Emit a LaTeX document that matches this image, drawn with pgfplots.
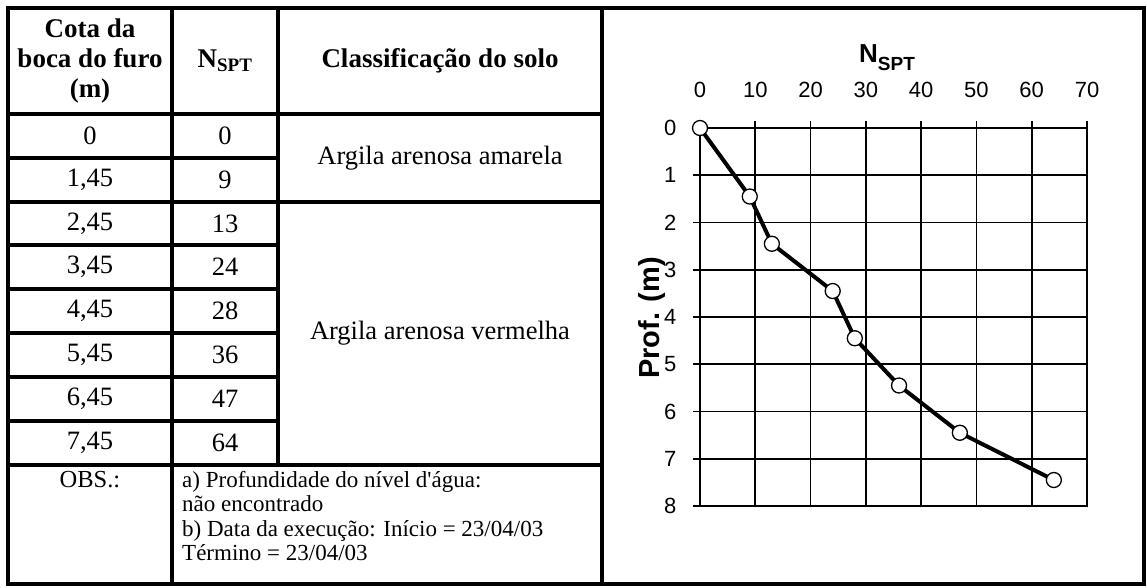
\documentclass[border=0pt]{standalone}
\usepackage{pgfplots}
\pgfplotsset{compat=1.18}
\usepackage{fontspec}
\setmainfont{Liberation Serif}
\newfontfamily\uisans{Liberation Sans}
\begin{document}
\begin{tikzpicture}
\path[use as bounding box] (0pt,0pt) rectangle (1147pt,-587pt);
% table grid
\begin{scope}[line width=4pt, line cap=rect]
\draw (8pt,-8pt) rectangle (1144pt,-584pt);
\draw (172pt,-8pt) -- (172pt,-584pt);
\draw (278pt,-8pt) -- (278pt,-465pt);
\draw (602pt,-8pt) -- (602pt,-584pt);
\draw (8pt,-114pt) -- (602pt,-114pt);
\draw (8pt,-158pt) -- (278pt,-158pt);
\draw (8pt,-202pt) -- (602pt,-202pt);
\foreach \yy in {245,289,333,377,421} \draw (8pt,-\yy pt) -- (278pt,-\yy pt);
\draw (8pt,-465pt) -- (602pt,-465pt);
\end{scope}
% header
\node[align=center, font=\fontsize{27}{30}\selectfont\bfseries] at (90pt,-61pt) {Cota da\\boca do furo\\(m)};
\node[font=\fontsize{27}{30}\selectfont\bfseries] at (225pt,-61pt) {N\textsubscript{\fontsize{19}{19}\selectfont SPT}};
\node[font=\fontsize{27}{30}\selectfont\bfseries] at (440pt,-61pt) {Classificação do solo};
% rows
\foreach \c/\n/\yy in {0/0/136,{1,45}/9/180,{2,45}/13/223.5,{3,45}/24/267,{4,45}/28/311,{5,45}/36/355,{6,45}/47/399,{7,45}/64/443}{
  \node[font=\fontsize{26.5}{30}\selectfont] at (90pt,-\yy pt) {\c};
  \node[font=\fontsize{26.5}{30}\selectfont] at (225pt,-\yy pt) {\n};
}
\node[font=\fontsize{26.5}{30}\selectfont] at (440pt,-158pt) {Argila arenosa amarela};
\node[font=\fontsize{26.5}{30}\selectfont] at (440pt,-333pt) {Argila arenosa vermelha};
\node[anchor=base, inner sep=0pt, font=\fontsize{24.5}{30}\selectfont] at (90pt,-487pt) {OBS.:};
\node[anchor=base west, inner sep=0pt, font=\fontsize{23}{26}\selectfont] at (182pt,-487pt) {a) Profundidade do nível d\textquotesingle água:};
\node[anchor=base west, inner sep=0pt, font=\fontsize{23}{26}\selectfont] at (182pt,-511.5pt) {não encontrado};
\node[anchor=base west, inner sep=0pt, font=\fontsize{23}{26}\selectfont] at (182pt,-536pt) {b) Data da execução: Início = 23/04/03};
\node[anchor=base west, inner sep=0pt, font=\fontsize{23}{26}\selectfont] at (182pt,-560.5pt) {Término = 23/04/03};
% plot
\begin{axis}[
  at={(700pt,-128pt)}, anchor=north west, scale only axis,
  width=387pt, height=378pt,
  xmin=0, xmax=70, ymin=0, ymax=8, y dir=reverse,
  xtick={0,10,...,70}, ytick={0,1,...,8},
  xtick pos=right, xticklabel pos=right, ytick pos=left,
  tick align=outside, major tick length=7pt,
  grid=major, major grid style={black, line width=1.6pt},
  axis line style={black, line width=1.6pt},
  every tick/.style={black, line width=1.6pt},
  ticklabel style={font=\uisans\fontsize{22}{22}\selectfont},
  /pgf/number format/assume math mode=true,
  xticklabel style={yshift=20pt},
  yticklabel style={xshift=-13pt},
  clip=false,
]
\addplot[black, line width=4pt, mark=*, mark size=7.5pt,
  mark options={fill=white, draw=black, line width=1.3pt}] table {
x y
0 0
9 1.45
13 2.45
24 3.45
28 4.45
36 5.45
47 6.45
64 7.45
};
\end{axis}
\node[anchor=base, font=\uisans\bfseries\fontsize{26}{26}\selectfont, inner sep=0pt] at (887pt,-62pt) {N\raisebox{-8pt}{\fontsize{19}{19}\selectfont SPT}};
\node[rotate=90, anchor=base, font=\uisans\bfseries\fontsize{29}{29}\selectfont, inner sep=0pt] at (659pt,-318pt) {Prof. (m)};
\end{tikzpicture}
\end{document}
